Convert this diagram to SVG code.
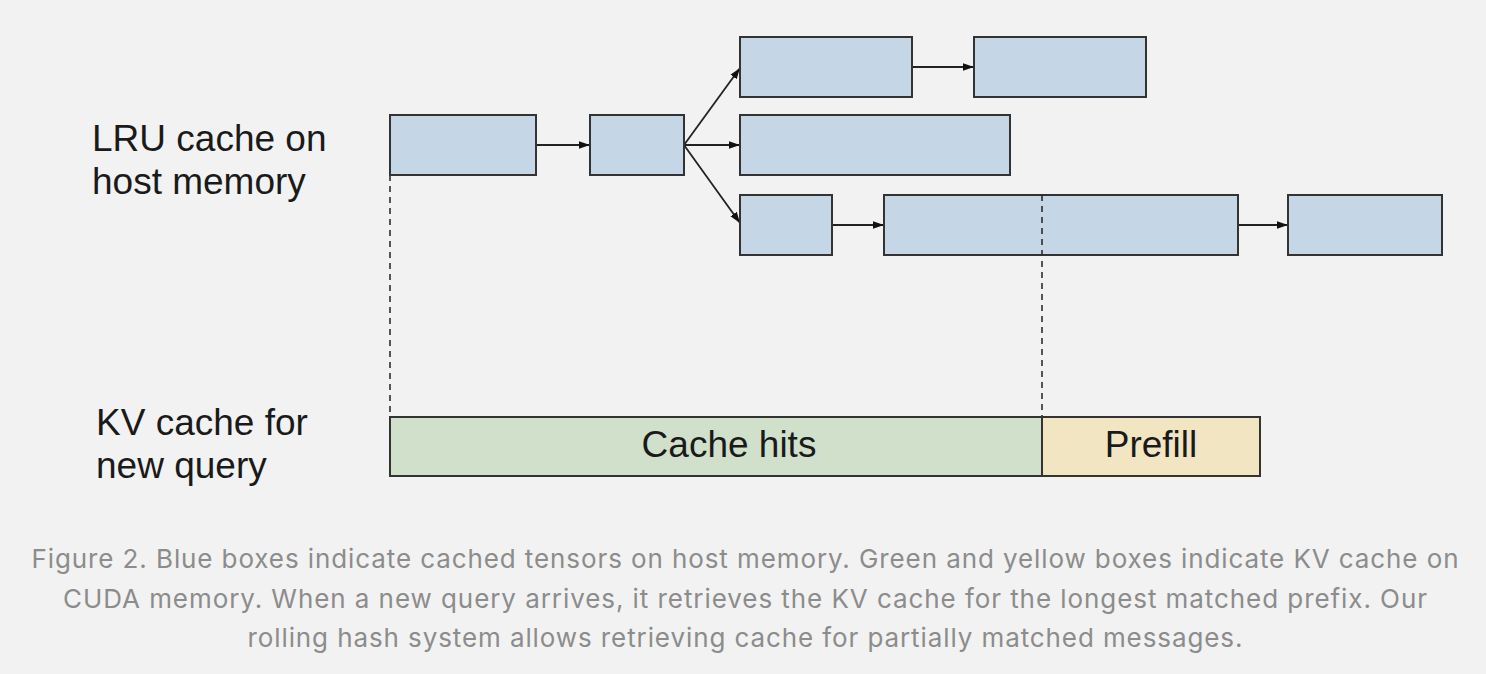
<svg xmlns="http://www.w3.org/2000/svg" width="1486" height="674" viewBox="0 0 1486 674">
<style>
.blue{fill:#c5d7e6;stroke:#333;stroke-width:2}
.green{fill:#d0e0cb;stroke:#333;stroke-width:2}
.yellow{fill:#f2e5c2;stroke:#333;stroke-width:2}
.lbl{font-family:"Liberation Sans",Arial,sans-serif;font-size:37px;fill:#1a1a1a}
.cap{font-family:Inter,"Liberation Sans",sans-serif;font-size:26px;fill:#8c8c8c;text-anchor:middle}
.arr{stroke:#222;stroke-width:1.8;fill:none;marker-end:url(#ah)}
.dash{stroke:#222;stroke-width:1.5;stroke-dasharray:6,5;fill:none}
</style>
<defs>
<marker id="ah" viewBox="0 0 10 10" refX="10" refY="5" markerWidth="11" markerHeight="11" markerUnits="userSpaceOnUse" orient="auto">
<path d="M0,1.5 L10,5 L0,8.5 z" fill="#111"/>
</marker>
</defs>
<rect width="1486" height="674" fill="#f2f2f2"/>
<g id="labels">
<text class="lbl" x="92" y="151">LRU cache on</text>
<text class="lbl" x="92" y="194">host memory</text>
<text class="lbl" x="96" y="435">KV cache for</text>
<text class="lbl" x="96" y="478">new query</text>
</g>
<g id="connectors">
<line class="dash" x1="390" y1="175" x2="390" y2="417"/>
<line class="dash" x1="1042" y1="195" x2="1042" y2="417"/>
<line class="arr" x1="536" y1="145" x2="590" y2="145"/>
<line class="arr" x1="684" y1="145" x2="740" y2="68"/>
<line class="arr" x1="684" y1="145" x2="740" y2="145"/>
<line class="arr" x1="684" y1="145" x2="740" y2="223"/>
<line class="arr" x1="912" y1="67" x2="974" y2="67"/>
<line class="arr" x1="832" y1="225" x2="884" y2="225"/>
<line class="arr" x1="1238" y1="225" x2="1288" y2="225"/>
</g>
<g id="nodeA"><rect class="blue" x="390" y="115" width="146" height="60"/></g>
<g id="nodeB"><rect class="blue" x="590" y="115" width="94" height="60"/></g>
<g id="nodeC"><rect class="blue" x="740" y="37" width="172" height="60"/></g>
<g id="nodeD"><rect class="blue" x="974" y="37" width="172" height="60"/></g>
<g id="nodeE"><rect class="blue" x="740" y="115" width="270" height="60"/></g>
<g id="nodeF"><rect class="blue" x="740" y="195" width="92" height="60"/></g>
<g id="nodeG"><rect class="blue" x="884" y="195" width="354" height="60"/></g>
<g id="nodeH"><rect class="blue" x="1288" y="195" width="154" height="60"/></g>
<line class="dash" x1="1042" y1="195" x2="1042" y2="255"/>
<g id="cacheHits"><rect class="green" x="390" y="417" width="652" height="59"/>
<text class="lbl" x="729" y="457" text-anchor="middle">Cache hits</text></g>
<g id="prefill"><rect class="yellow" x="1042" y="417" width="218" height="59"/>
<text class="lbl" x="1151" y="457" text-anchor="middle">Prefill</text></g>
<g id="caption">
<text class="cap" x="745" y="568" textLength="1427" lengthAdjust="spacing">Figure 2. Blue boxes indicate cached tensors on host memory. Green and yellow boxes indicate KV cache on</text>
<text class="cap" x="745" y="608" textLength="1364" lengthAdjust="spacing">CUDA memory. When a new query arrives, it retrieves the KV cache for the longest matched prefix. Our</text>
<text class="cap" x="745" y="647" textLength="995" lengthAdjust="spacing">rolling hash system allows retrieving cache for partially matched messages.</text>
</g>
</svg>
